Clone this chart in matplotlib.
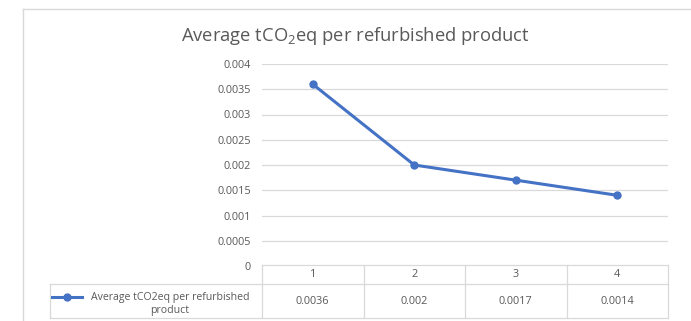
import matplotlib.pyplot as plt
from matplotlib.lines import Line2D
from matplotlib.transforms import blended_transform_factory

# Average emissions per refurbished product, by period
periods = ["1", "2", "3", "4"]
avg_tco2eq = [0.0036, 0.002, 0.0017, 0.0014]
value_labels = ["0.0036", "0.002", "0.0017", "0.0014"]
series_name = "Average tCO2eq per refurbished\nproduct"
y_ticks = [0, 0.0005, 0.001, 0.0015, 0.002, 0.0025, 0.003, 0.0035, 0.004]
y_tick_labels = ["0", "0.0005", "0.001", "0.0015", "0.002", "0.0025", "0.003", "0.0035", "0.004"]

W, H = 691, 321
text_col = "#595959"
grid_col = "#D9D9D9"
line_col = "#4472C4"
plt.rcParams["font.family"] = ["Open Sans", "DejaVu Sans"]
plt.rcParams["mathtext.fontset"] = "custom"
plt.rcParams["mathtext.rm"] = "Open Sans"

fig = plt.figure(figsize=(W / 100, H / 100), dpi=100)

# chart frame
fig.add_artist(Line2D([23 / W, 23 / W], [0, 1 - 9 / H], color=grid_col, lw=1.0))
fig.add_artist(Line2D([23 / W, 1], [1 - 9 / H, 1 - 9 / H], color=grid_col, lw=1.0))

# plot area in pixels: x 262..668, y 64..266 (top-down)
left, right, top, bottom = 262, 668, 64, 266
ax = fig.add_axes([left / W, 1 - bottom / H, (right - left) / W, (bottom - top) / H])
x = list(range(len(periods)))
ax.plot(x, avg_tco2eq, color=line_col, lw=2.2, marker="o", ms=5, zorder=3)
ax.set_xlim(-0.5, len(periods) - 0.5)
ax.set_ylim(0, 0.004)
ax.set_yticks(y_ticks)
ax.set_yticklabels(y_tick_labels, fontsize=7.8, color=text_col)
ax.set_xticks([])
ax.tick_params(axis="y", length=0, pad=8)
ax.grid(axis="y", color=grid_col, lw=0.9)
ax.set_axisbelow(True)
for s in ax.spines.values():
    s.set_visible(False)

fig.text(355 / W, 1 - 36 / H, r"Average tCO$_\mathregular{2}$eq per refurbished product",
         ha="center", va="center", fontsize=13.2, color=text_col)

# data table below the plot
tr = blended_transform_factory(ax.transData, fig.transFigure)
def fy(py):
    return 1 - py / H

row_top, row_mid, row_bot = 265, 284, 318
kw = dict(color=grid_col, lw=0.9, clip_on=False)
fig.add_artist(Line2D([-0.5, 3.5], [fy(row_top)] * 2, transform=tr, **kw))
fig.add_artist(Line2D([50 / W, right / W], [fy(row_mid)] * 2, **kw))
fig.add_artist(Line2D([50 / W, right / W], [fy(row_bot)] * 2, **kw))
fig.add_artist(Line2D([50 / W, 50 / W], [fy(row_bot), fy(row_mid)], **kw))
for i in range(len(periods) + 1):
    fig.add_artist(Line2D([i - 0.5, i - 0.5], [fy(row_bot), fy(row_top)], transform=tr, **kw))

for i, (p, v) in enumerate(zip(periods, value_labels)):
    fig.text(i, fy((row_top + row_mid) / 2), p, transform=tr, ha="center", va="center",
             fontsize=7.8, color=text_col)
    fig.text(i, fy((row_mid + row_bot) / 2), v, transform=tr, ha="center", va="center",
             fontsize=7.8, color=text_col)

# legend key inside the table
fig.add_artist(Line2D([52 / W, 67 / W, 82 / W], [fy(297)] * 3, color=line_col, lw=2.2,
                      marker="o", ms=5, markevery=[1], clip_on=False))
fig.text(170 / W, fy(304), series_name, ha="center", va="center",
         fontsize=7.6, color=text_col, linespacing=1.3)

fig.savefig("out.png", dpi=100, facecolor="white")
